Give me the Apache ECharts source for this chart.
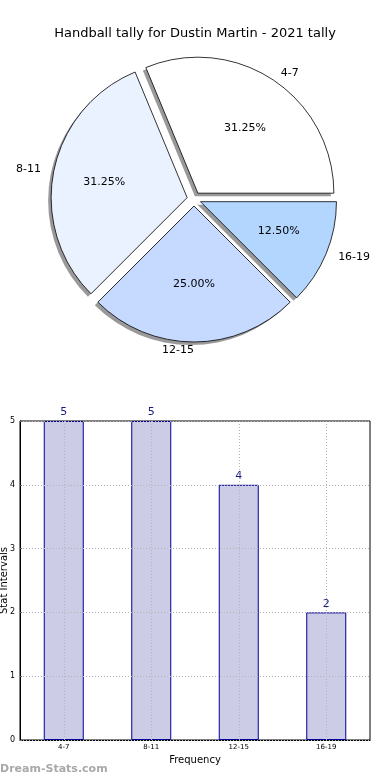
<!DOCTYPE html>
<html>
<head>
<meta charset="utf-8">
<script src="https://cdn.jsdelivr.net/npm/echarts@6/dist/echarts.min.js"></script>
<style>
html,body{margin:0;padding:0;background:#fff;}
#c{width:390px;height:780px;}
</style>
</head>
<body>
<div id="c"></div>
<script>
// ---- data ----
var titleText = 'Handball tally for Dustin Martin - 2021 tally';
var categories = ['4-7', '8-11', '12-15', '16-19'];
var tally = [5, 5, 4, 2];
var yTicks = [0, 1, 2, 3, 4, 5];
var yAxisName = 'Stat Intervals';
var xAxisName = 'Frequency';
var watermark = 'Dream-Stats.com';

// ---- styles ----
var sliceColors = ['#ffffff', '#ebf2ff', '#c6d9ff', '#b3d6ff'];
var FONT = 'DejaVu Sans';
var PIE_C = [194, 199];
var PIE_R = 136;

var chart = echarts.init(document.getElementById('c'), null, {renderer: 'canvas'});

function pieItems(colorFn) {
  return categories.map(function (c, i) {
    return {name: c, value: tally[i], selected: true, itemStyle: {color: colorFn(i)}};
  });
}

// the reference pie is slightly flattened; pull labels toward the centre vertically
function squash(factor) {
  return function (params) {
    var r = params.labelRect || params.rect;
    var cy = r.y + r.height / 2;
    return {dy: (PIE_C[1] - cy) * (1 - factor)};
  };
}

var basePie = {
  type: 'pie',
  startAngle: 0,
  clockwise: false,
  selectedMode: 'multiple',
  selectedOffset: 7,
  avoidLabelOverlap: false,
  silent: true,
  emphasis: {disabled: true}
};

var option = {
  animation: false,
  textStyle: {fontFamily: FONT},
  title: {
    text: titleText,
    left: 'center',
    top: 22,
    textStyle: {fontFamily: FONT, fontSize: 13, fontWeight: 'normal', color: '#000'}
  },
  graphic: [{
    type: 'text',
    left: 0,
    top: 764,
    style: {text: watermark, fontFamily: FONT, fontSize: 11, fontWeight: 'bold', fill: '#a8a8a8'}
  }],
  grid: {
    left: 20, right: 20, top: 421, bottom: 40,
    containLabel: false,
    outerBoundsMode: 'none',
    show: true, borderColor: '#000', borderWidth: 1, backgroundColor: 'transparent'
  },
  xAxis: {
    type: 'category',
    data: categories,
    name: xAxisName,
    nameLocation: 'middle',
    nameGap: 15,
    nameMoveOverlap: false,
    nameTextStyle: {fontFamily: FONT, fontSize: 10, color: '#000'},
    axisLine: {lineStyle: {color: '#000', width: 1}},
    axisTick: {show: false},
    axisLabel: {fontFamily: FONT, fontSize: 7, color: '#000', margin: 4},
    splitLine: {show: false}
  },
  yAxis: {
    type: 'value',
    min: 0, max: 5, interval: 1,
    z: 3,
    name: yAxisName,
    nameLocation: 'middle',
    nameRotate: 90,
    nameGap: 11,
    nameMoveOverlap: false,
    nameTextStyle: {fontFamily: FONT, fontSize: 10, color: '#000'},
    axisLine: {show: true, lineStyle: {color: '#000', width: 1}},
    axisTick: {show: true, inside: true, length: 2, lineStyle: {color: '#666'}},
    axisLabel: {fontFamily: FONT, fontSize: 8, color: '#000', margin: 5,
      formatter: function (v) { return yTicks.indexOf(v) >= 0 ? String(v) : ''; }},
    splitLine: {show: true, lineStyle: {color: '#b4b4b4', type: [1, 2], width: 1}}
  },
  series: [
    // shadow pie (offset down-left, drawn beneath)
    Object.assign({}, basePie, {
      center: [PIE_C[0] - 3, PIE_C[1] + 3],
      radius: [0, PIE_R],
      z: 1,
      data: pieItems(function () { return 'rgba(70,70,70,0.55)'; }),
      itemStyle: {borderWidth: 0},
      label: {show: false},
      labelLine: {show: false}
    }),
    // main pie
    Object.assign({}, basePie, {
      center: PIE_C,
      radius: [0, PIE_R],
      z: 2,
      data: pieItems(function (i) { return sliceColors[i]; }),
      itemStyle: {borderColor: '#000', borderWidth: 0.8},
      label: {
        show: true, position: 'outside', distanceToLabelLine: 0,
        fontFamily: FONT, fontSize: 11, color: '#000',
        formatter: '{b}'
      },
      labelLine: {show: false, length: 13, length2: 0},
      labelLayout: squash(0.97)
    }),
    // percentage labels (transparent, sized so the inside label sits at 0.6 r)
    Object.assign({}, basePie, {
      center: PIE_C,
      radius: [0, PIE_R * 1.2],
      z: 3,
      data: pieItems(function () { return 'rgba(0,0,0,0)'; }),
      itemStyle: {borderWidth: 0},
      label: {
        show: true, position: 'inside',
        fontFamily: FONT, fontSize: 11, color: '#000',
        formatter: function (p) { return p.percent.toFixed(2) + '%'; }
      },
      labelLine: {show: false},
      labelLayout: squash(0.92)
    }),
    {
      type: 'bar',
      data: tally,
      barWidth: 40,
      itemStyle: {color: '#ccccE6', borderColor: '#000099', borderWidth: 1},
      label: {show: true, position: 'top', distance: 3, fontFamily: FONT, fontSize: 11, color: '#1a1a80'},
      markLine: {
        silent: true,
        symbol: 'none',
        label: {show: false},
        lineStyle: {color: '#b4b4b4', type: [1, 2], width: 1},
        emphasis: {disabled: true},
        data: categories.map(function (c) { return {xAxis: c}; })
      }
    }
  ]
};
chart.setOption(option);
</script>
</body>
</html>
